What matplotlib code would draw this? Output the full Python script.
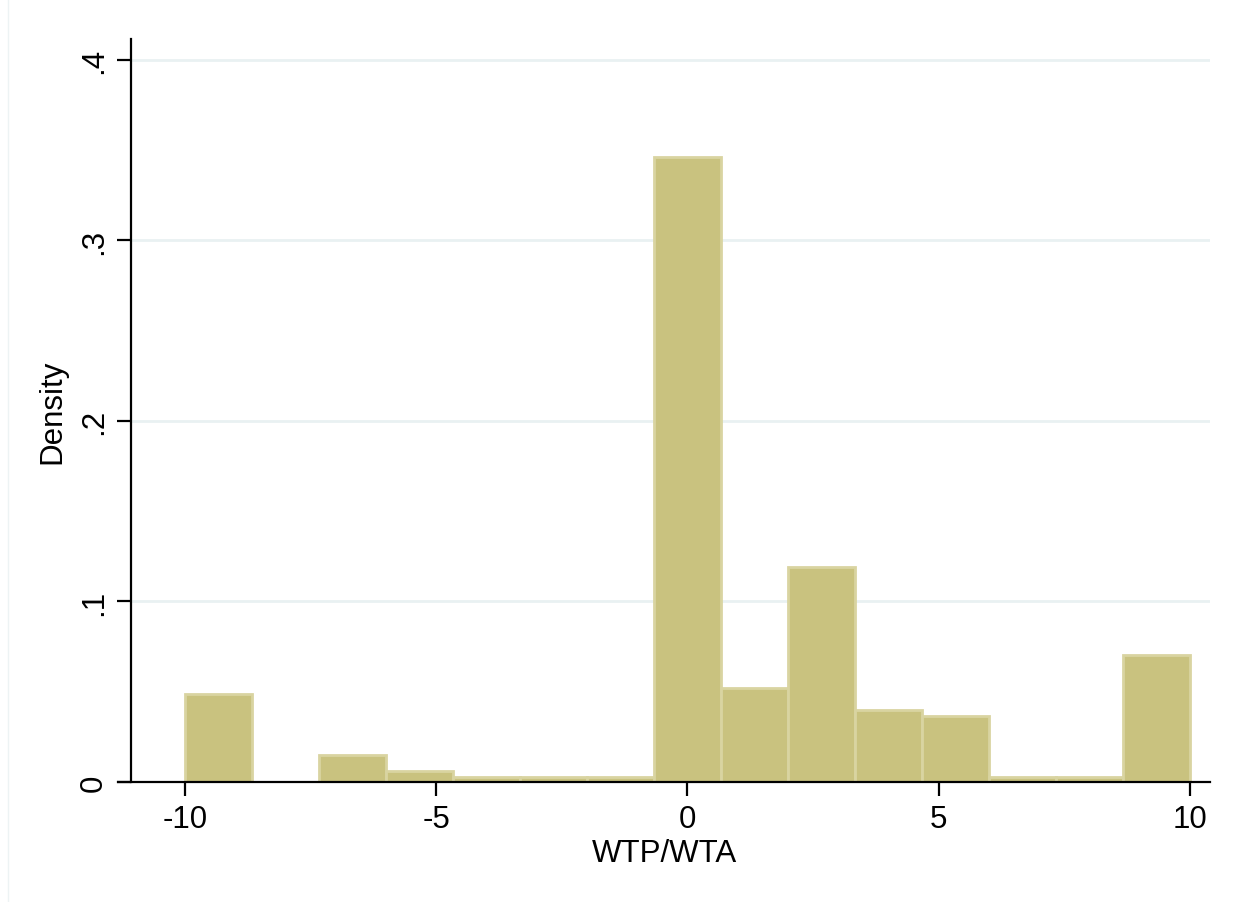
import numpy as np
import matplotlib.pyplot as plt

# histogram of WTP/WTA, 15 bins between -10 and 10
bin_edges = np.linspace(-10, 10, 16)
density = [0.0488, 0.0, 0.0150, 0.0059, 0.0029, 0.0029, 0.0029, 0.3463,
           0.0519, 0.1191, 0.0399, 0.0366, 0.0029, 0.0029, 0.0704]
yticks = [0, 0.1, 0.2, 0.3, 0.4]
ytick_labels = ["0", ".1", ".2", ".3", ".4"]
xticks = [-10, -5, 0, 5, 10]
xtick_labels = ["-10", "-5", "0", "5", "10"]

plt.rcParams['font.family'] = ['Liberation Sans', 'DejaVu Sans']

W, H = 1238, 903
fig = plt.figure(figsize=(W / 100, H / 100), dpi=100)
ax = fig.add_axes([118 / W, 120 / H, (1210 - 118) / W, (783 - 40) / H])

x_left = -11.33
y_spine = -11.07
x_right = 10.4
ax.set_xlim(x_left, x_right)
ax.set_ylim(0, 0.4116)

# light grid lines, starting at the y axis
ax.hlines(yticks[1:], y_spine, x_right, colors='#e9f1f2', linewidth=2, zorder=0)

widths = np.diff(bin_edges)
ax.bar(bin_edges[:-1], density, width=widths, align='edge',
       color='#c9c27f', edgecolor='#d9d4a1', linewidth=2, zorder=2)

for s in ['top', 'right']:
    ax.spines[s].set_visible(False)
ax.spines['left'].set_position(('data', y_spine))
ax.spines['left'].set_linewidth(1.6)
ax.spines['bottom'].set_linewidth(1.6)

ax.set_xticks(xticks)
ax.set_xticklabels(xtick_labels)
ax.set_yticks(yticks)
ax.set_yticklabels(ytick_labels, rotation=90, va='center')
ax.tick_params(axis='both', length=10, width=1.6, labelsize=22.5, pad=6)

ax.set_xlabel("WTP/WTA", fontsize=22.5, labelpad=3)
ax.set_ylabel("Density", fontsize=22.5, labelpad=8)

# faint outer frame line on the left
fig.add_artist(plt.Line2D([8 / W, 8 / W], [0.0, 1.0], color='#edf3f4', linewidth=1))

fig.savefig("out.png", dpi=100)
